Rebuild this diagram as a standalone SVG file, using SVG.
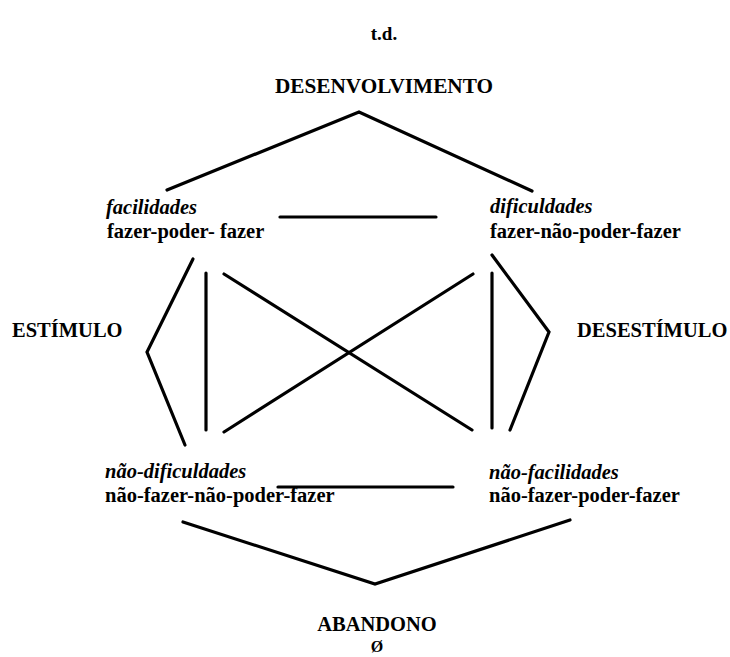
<svg xmlns="http://www.w3.org/2000/svg" width="730" height="657" viewBox="0 0 730 657">
<style>
.t{font-family:'Liberation Serif','DejaVu Serif',serif;font-weight:bold;fill:#000}
.it{font-style:italic}
.lbl{font-size:20.5px}
.ctr{text-anchor:middle}
.c line,.c polyline{stroke:#000;stroke-width:3.2;fill:none;stroke-linecap:round;stroke-linejoin:miter}
</style>
<rect width="730" height="657" fill="#fff"/>
<g class="t" font-family="Liberation Serif, DejaVu Serif, serif">
<g id="title"><text x="384" y="40" class="ctr" font-size="19">t.d.</text></g>
<g id="desenvolvimento"><text x="384" y="93" class="ctr lbl" textLength="218" lengthAdjust="spacingAndGlyphs">DESENVOLVIMENTO</text></g>
<g id="facilidades"><text x="106" y="214" class="lbl it">facilidades</text><text x="107" y="238" class="lbl">fazer-poder- fazer</text></g>
<g id="dificuldades"><text x="490" y="213" class="lbl it">dificuldades</text><text x="490" y="238" class="lbl">fazer-não-poder-fazer</text></g>
<g id="estimulo"><text x="12" y="337" class="lbl">ESTÍMULO</text></g>
<g id="desestimulo"><text x="577" y="337" class="lbl">DESESTÍMULO</text></g>
<g id="nao-dificuldades"><text x="105" y="478" class="lbl it">não-dificuldades</text><text x="105" y="502" class="lbl">não-fazer-não-poder-fazer</text></g>
<g id="nao-facilidades"><text x="489" y="479" class="lbl it">não-facilidades</text><text x="489" y="502" class="lbl">não-fazer-poder-fazer</text></g>
<g id="abandono"><text x="377" y="631" class="ctr lbl">ABANDONO</text><text x="377" y="652" class="ctr" font-size="16">Ø</text></g>
</g>
<g id="connectors" class="c">
<polyline points="167,190 359,112 532,191"/>
<line x1="280" y1="217" x2="436" y2="217"/>
<polyline points="193,259 147,352 185,445"/>
<polyline points="492,255 549,332 510,430"/>
<line x1="206" y1="273" x2="206" y2="430"/>
<line x1="492" y1="273" x2="492" y2="428"/>
<line x1="224" y1="274" x2="472" y2="430"/>
<line x1="473" y1="274" x2="224" y2="432"/>
<line x1="278" y1="487" x2="453" y2="487"/>
<polyline points="183,522 375,584 570,520"/>
</g>
</svg>
